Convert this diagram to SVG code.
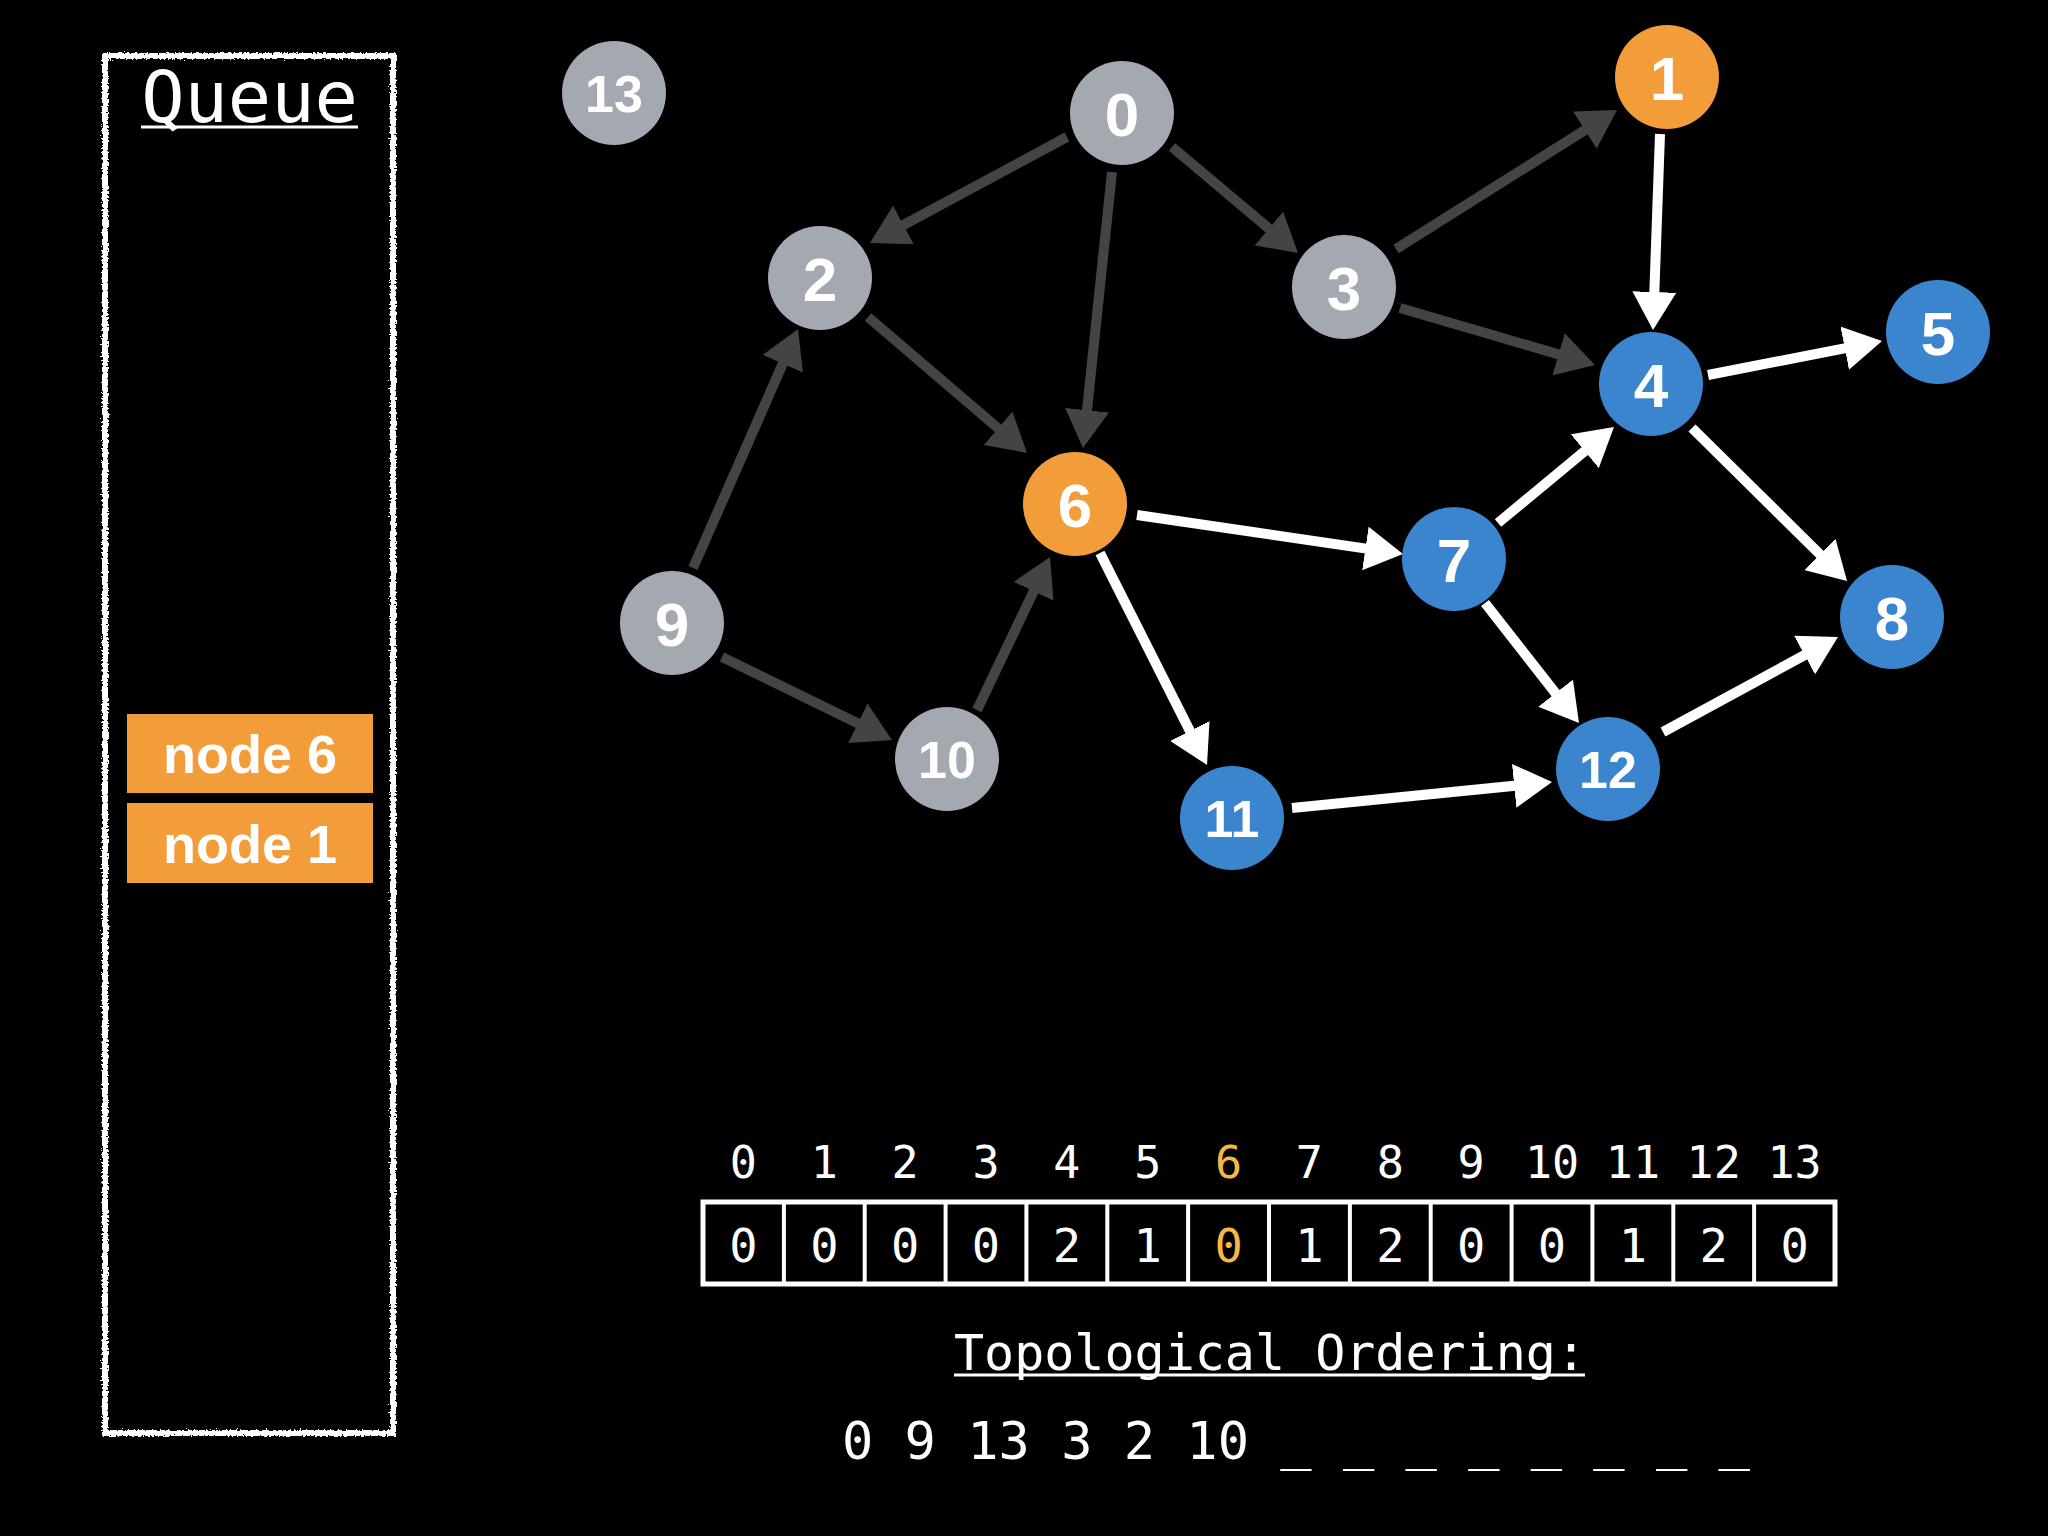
<svg xmlns="http://www.w3.org/2000/svg" width="2048" height="1536" viewBox="0 0 2048 1536">
<style>
.node text{font-family:"Liberation Sans",Arial,sans-serif;font-weight:bold;fill:#fff;text-anchor:middle}
.big{font-size:62px}
.small{font-size:52px}
.gray{fill:#A3A8B1}
.orange{fill:#F29D3A}
.blue{fill:#3B85CF}
.eg{stroke:#444;stroke-width:10;fill:none}
.ew{stroke:#fff;stroke-width:10;fill:none}
.mono{font-family:"DejaVu Sans Mono","Liberation Mono",monospace;fill:#fff}
.idx{font-size:45px;text-anchor:middle}
.val{font-size:47px;text-anchor:middle}
.hl{fill:#F6B845}
.cell{fill:none;stroke:#fff;stroke-width:4}
.qi text{font-family:"Liberation Sans",Arial,sans-serif;font-weight:bold;font-size:54px;fill:#fff;text-anchor:middle}
</style>
<defs>
<marker id="ag" markerUnits="userSpaceOnUse" markerWidth="40" markerHeight="44" viewBox="0 0 40 44" refX="18" refY="22" orient="auto"><path d="M0,0 L38,22 L0,44 z" fill="#444"/></marker>
<marker id="aw" markerUnits="userSpaceOnUse" markerWidth="40" markerHeight="44" viewBox="0 0 40 44" refX="18" refY="22" orient="auto"><path d="M0,0 L38,22 L0,44 z" fill="#fff"/></marker>
<filter id="rough" x="-5%" y="-5%" width="110%" height="110%">
<feTurbulence type="fractalNoise" baseFrequency="0.5" numOctaves="2" seed="3"/>
<feDisplacementMap in="SourceGraphic" scale="6" xChannelSelector="R" yChannelSelector="G"/>
</filter>
</defs>
<rect width="2048" height="1536" fill="#000"/>

<g id="queue">
<rect x="105" y="56" width="288" height="1377" fill="none" stroke="#fff" stroke-width="6" filter="url(#rough)"/>
<text class="mono" x="249.5" y="122" font-size="72" text-anchor="middle">Queue</text>
<line x1="141" y1="127" x2="358" y2="127" stroke="#fff" stroke-width="3"/>
</g>
<g id="queue-item-6" class="qi">
<rect x="127" y="714" width="246" height="79" class="orange"/>
<text x="250" y="773">node 6</text>
</g>
<g id="queue-item-1" class="qi">
<rect x="127" y="803" width="246" height="80" class="orange"/>
<text x="250" y="863">node 1</text>
</g>

<g id="connectors">
<line class="eg" x1="1067" y1="137" x2="887.6" y2="233.5" marker-end="url(#ag)"/>
<line class="eg" x1="1112" y1="172" x2="1085.1" y2="428.1" marker-end="url(#ag)"/>
<line class="eg" x1="1172" y1="147" x2="1282.7" y2="240.1" marker-end="url(#ag)"/>
<line class="eg" x1="1396" y1="249" x2="1600.1" y2="120.6" marker-end="url(#ag)"/>
<line class="eg" x1="1400" y1="308" x2="1575.8" y2="359.4" marker-end="url(#ag)"/>
<line class="eg" x1="868" y1="317" x2="1011.8" y2="440" marker-end="url(#ag)"/>
<line class="eg" x1="693" y1="568" x2="790" y2="347.3" marker-end="url(#ag)"/>
<line class="eg" x1="722" y1="657" x2="874" y2="731.2" marker-end="url(#ag)"/>
<line class="eg" x1="977" y1="710" x2="1041.4" y2="575.1" marker-end="url(#ag)"/>
<line class="ew" x1="1660" y1="134" x2="1653.7" y2="310" marker-end="url(#aw)"/>
<line class="ew" x1="1708" y1="375" x2="1862.4" y2="344.8" marker-end="url(#aw)"/>
<line class="ew" x1="1692" y1="428" x2="1832.8" y2="567" marker-end="url(#aw)"/>
<line class="ew" x1="1137" y1="515" x2="1383.2" y2="551.1" marker-end="url(#aw)"/>
<line class="ew" x1="1100" y1="553" x2="1198" y2="747.1" marker-end="url(#aw)"/>
<line class="ew" x1="1498" y1="523" x2="1598.6" y2="439.7" marker-end="url(#aw)"/>
<line class="ew" x1="1485" y1="603" x2="1566.7" y2="707.3" marker-end="url(#aw)"/>
<line class="ew" x1="1292" y1="808" x2="1532.1" y2="784" marker-end="url(#aw)"/>
<line class="ew" x1="1663" y1="732" x2="1820.4" y2="646.5" marker-end="url(#aw)"/>
</g>

<g id="node-0" class="node"><circle cx="1122" cy="113" r="52" class="gray"/><text class="big" x="1122" y="136">0</text></g>
<g id="node-1" class="node"><circle cx="1667" cy="77" r="52" class="orange"/><text class="big" x="1667" y="100">1</text></g>
<g id="node-2" class="node"><circle cx="820" cy="278" r="52" class="gray"/><text class="big" x="820" y="301">2</text></g>
<g id="node-3" class="node"><circle cx="1344" cy="287" r="52" class="gray"/><text class="big" x="1344" y="310">3</text></g>
<g id="node-4" class="node"><circle cx="1651" cy="384" r="52" class="blue"/><text class="big" x="1651" y="407">4</text></g>
<g id="node-5" class="node"><circle cx="1938" cy="332" r="52" class="blue"/><text class="big" x="1938" y="355">5</text></g>
<g id="node-6" class="node"><circle cx="1075" cy="504" r="52" class="orange"/><text class="big" x="1075" y="527">6</text></g>
<g id="node-7" class="node"><circle cx="1454" cy="559" r="52" class="blue"/><text class="big" x="1454" y="582">7</text></g>
<g id="node-8" class="node"><circle cx="1892" cy="617" r="52" class="blue"/><text class="big" x="1892" y="640">8</text></g>
<g id="node-9" class="node"><circle cx="672" cy="623" r="52" class="gray"/><text class="big" x="672" y="646">9</text></g>
<g id="node-10" class="node"><circle cx="947" cy="759" r="52" class="gray"/><text class="small" x="947" y="778">10</text></g>
<g id="node-11" class="node"><circle cx="1232" cy="818" r="52" class="blue"/><text class="small" x="1232" y="837">11</text></g>
<g id="node-12" class="node"><circle cx="1608" cy="769" r="52" class="blue"/><text class="small" x="1608" y="788">12</text></g>
<g id="node-13" class="node"><circle cx="614" cy="93" r="52" class="gray"/><text class="small" x="614" y="112">13</text></g>

<g id="indegree-array">
<rect x="703" y="1202" width="1132" height="82" fill="none" stroke="#fff" stroke-width="5"/>
<g class="cells">
<line class="cell" x1="783.9" y1="1202" x2="783.9" y2="1284"/>
<line class="cell" x1="864.7" y1="1202" x2="864.7" y2="1284"/>
<line class="cell" x1="945.6" y1="1202" x2="945.6" y2="1284"/>
<line class="cell" x1="1026.4" y1="1202" x2="1026.4" y2="1284"/>
<line class="cell" x1="1107.3" y1="1202" x2="1107.3" y2="1284"/>
<line class="cell" x1="1188.1" y1="1202" x2="1188.1" y2="1284"/>
<line class="cell" x1="1269" y1="1202" x2="1269" y2="1284"/>
<line class="cell" x1="1349.9" y1="1202" x2="1349.9" y2="1284"/>
<line class="cell" x1="1430.7" y1="1202" x2="1430.7" y2="1284"/>
<line class="cell" x1="1511.6" y1="1202" x2="1511.6" y2="1284"/>
<line class="cell" x1="1592.4" y1="1202" x2="1592.4" y2="1284"/>
<line class="cell" x1="1673.3" y1="1202" x2="1673.3" y2="1284"/>
<line class="cell" x1="1754.1" y1="1202" x2="1754.1" y2="1284"/>
</g>
<g class="mono idx">
<text x="743.4" y="1178">0</text>
<text x="824.3" y="1178">1</text>
<text x="905.1" y="1178">2</text>
<text x="986" y="1178">3</text>
<text x="1066.9" y="1178">4</text>
<text x="1147.7" y="1178">5</text>
<text x="1228.6" y="1178" class="hl">6</text>
<text x="1309.4" y="1178">7</text>
<text x="1390.3" y="1178">8</text>
<text x="1471.1" y="1178">9</text>
<text x="1552" y="1178">10</text>
<text x="1632.9" y="1178">11</text>
<text x="1713.7" y="1178">12</text>
<text x="1794.6" y="1178">13</text>
</g>
<g class="mono val">
<text x="743.4" y="1262">0</text>
<text x="824.3" y="1262">0</text>
<text x="905.1" y="1262">0</text>
<text x="986" y="1262">0</text>
<text x="1066.9" y="1262">2</text>
<text x="1147.7" y="1262">1</text>
<text x="1228.6" y="1262" class="hl">0</text>
<text x="1309.4" y="1262">1</text>
<text x="1390.3" y="1262">2</text>
<text x="1471.1" y="1262">0</text>
<text x="1552" y="1262">0</text>
<text x="1632.9" y="1262">1</text>
<text x="1713.7" y="1262">2</text>
<text x="1794.6" y="1262">0</text>
</g>
</g>

<g id="ordering">
<text class="mono" x="1270" y="1370" font-size="50" text-anchor="middle">Topological Ordering:</text>
<line x1="954" y1="1375" x2="1585" y2="1375" stroke="#fff" stroke-width="3"/>
<text class="mono" x="842" y="1459" font-size="52" xml:space="preserve">0 9 13 3 2 10 _ _ _ _ _ _ _ _</text>
</g>
</svg>
